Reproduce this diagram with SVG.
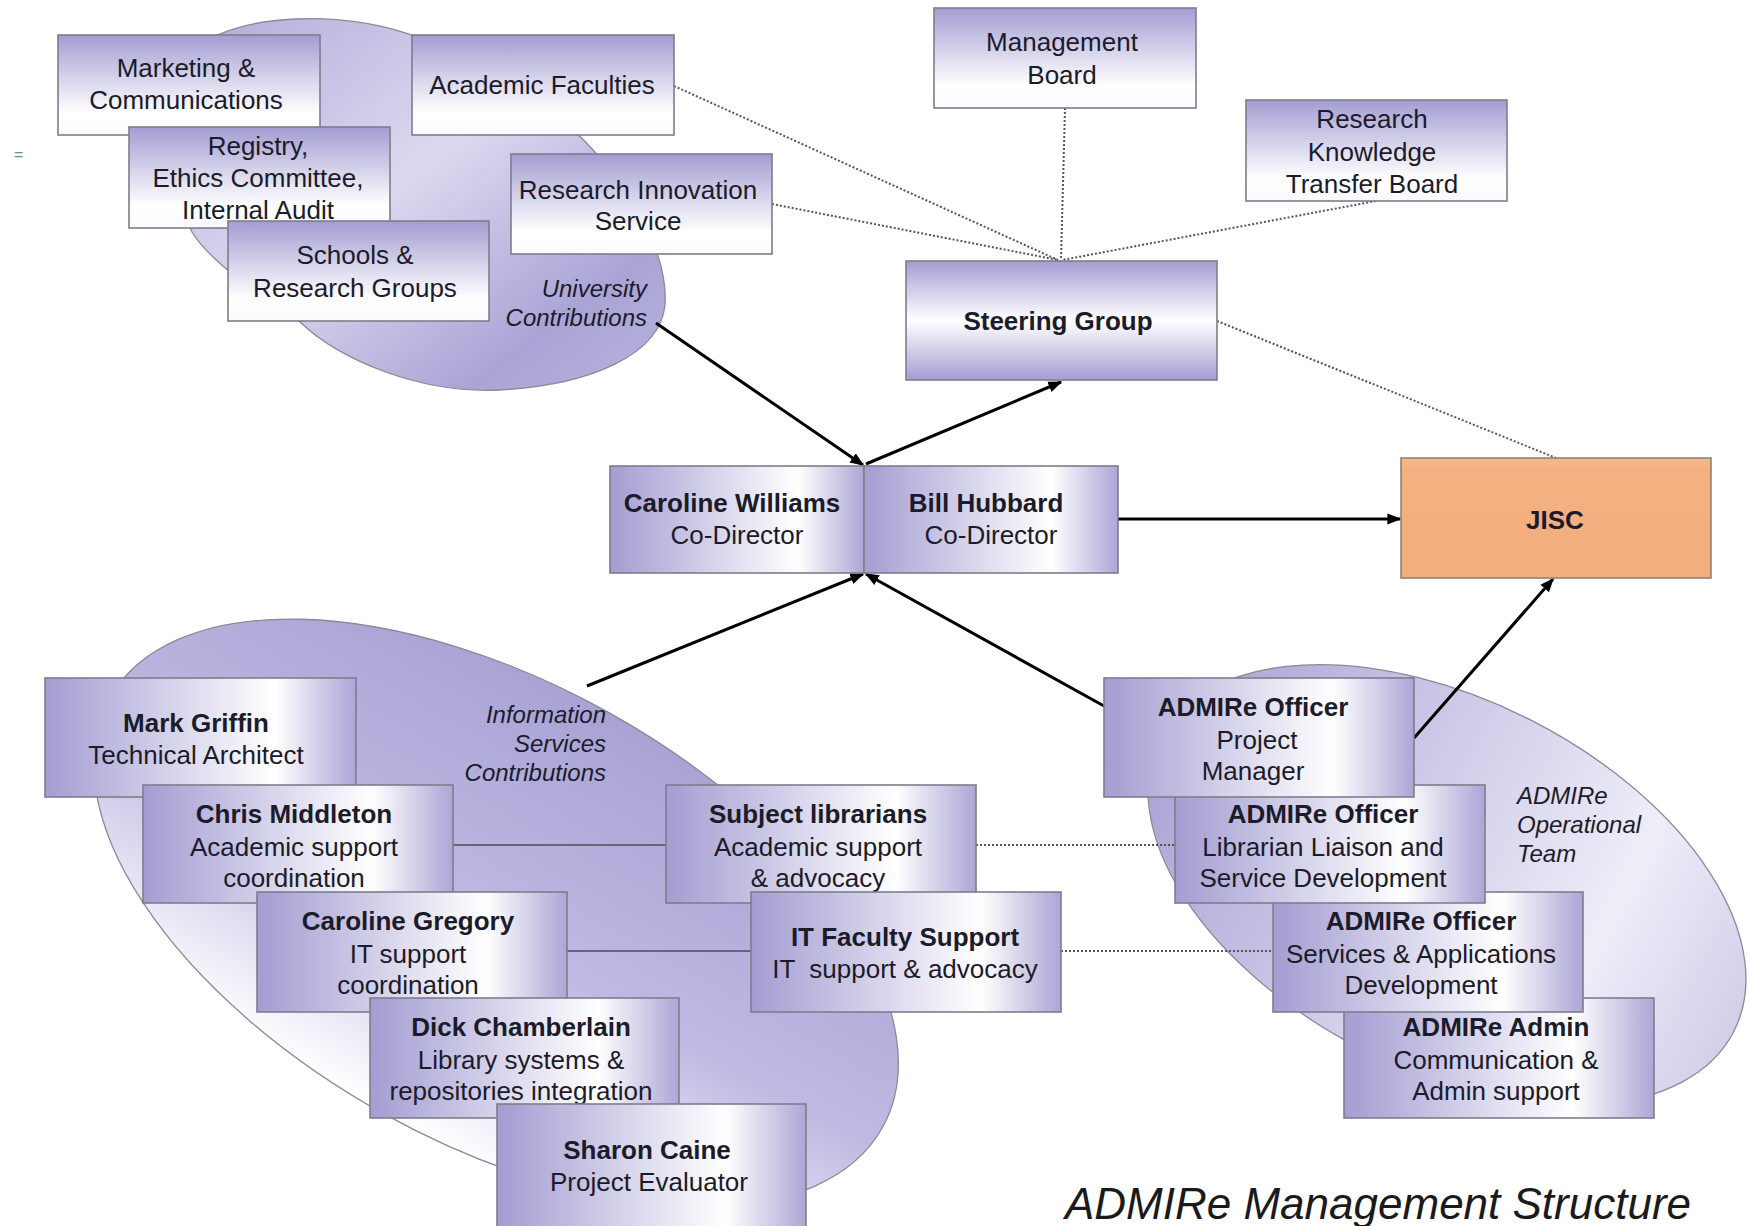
<svg xmlns="http://www.w3.org/2000/svg" width="1749" height="1226" viewBox="0 0 1749 1226">
<style>
.box{stroke:#7d7d8c;stroke-width:1.6}
text{font-family:"Liberation Sans",Arial,sans-serif;fill:#1b1b2a}
.t{font-size:26px;text-anchor:middle}
.b{font-weight:bold}
.i{font-style:italic;font-size:24px}
.dot{stroke:#555;stroke-width:2;stroke-dasharray:2 2;fill:none}
.arr{stroke:#000;stroke-width:3;fill:none;marker-end:url(#ah)}
.ln{stroke:#666677;stroke-width:1.8;fill:none}
.blob{stroke:#8a8a96;stroke-width:1.3}
</style>
<defs>
<linearGradient id="gV" x1="0" y1="0" x2="0" y2="1"><stop offset="0" stop-color="#a39dd2"/><stop offset="0.78" stop-color="#ffffff"/><stop offset="1" stop-color="#fbfbff"/></linearGradient>
<linearGradient id="gS" x1="0" y1="0" x2="0" y2="1"><stop offset="0" stop-color="#a39dd2"/><stop offset="0.5" stop-color="#ffffff"/><stop offset="1" stop-color="#a39dd2"/></linearGradient>
<linearGradient id="gH" x1="0" y1="0" x2="1" y2="0"><stop offset="0" stop-color="#a39dd2"/><stop offset="0.74" stop-color="#ffffff"/><stop offset="1" stop-color="#aca6d6"/></linearGradient>
<linearGradient id="gJ" x1="0" y1="0" x2="0" y2="1"><stop offset="0" stop-color="#f6b98c"/><stop offset="0.1" stop-color="#f4b080"/><stop offset="1" stop-color="#f3ae7e"/></linearGradient>
<linearGradient id="gB1" x1="0" y1="0" x2="1" y2="1"><stop offset="0" stop-color="#b0aada"/><stop offset="0.45" stop-color="#dcd9ef"/><stop offset="0.8" stop-color="#aaa4d6"/><stop offset="1" stop-color="#b8b3de"/></linearGradient>
<linearGradient id="gE1" x1="0" y1="0" x2="0" y2="1"><stop offset="0" stop-color="#a9a3d5"/><stop offset="0.55" stop-color="#bfbae2"/><stop offset="1" stop-color="#ffffff"/></linearGradient>
<linearGradient id="gE2" x1="0" y1="0" x2="1" y2="0"><stop offset="0" stop-color="#aaa4d6"/><stop offset="0.75" stop-color="#eeedf8"/><stop offset="1" stop-color="#d2cfea"/></linearGradient>
<marker id="ah" viewBox="0 0 10 10" refX="9" refY="5" markerWidth="14" markerHeight="14" markerUnits="userSpaceOnUse" orient="auto"><path d="M0,1 L10,5 L0,9 z" fill="#000"/></marker>
</defs>
<rect width="1749" height="1226" fill="#ffffff"/>
<text x="14" y="160" style="font-size:16px;fill:#6f8f80">=</text>

<g id="blob-university">
<path class="blob" fill="url(#gB1)" d="M200,45 C240,15 340,8 420,38 C490,65 560,110 600,158 C640,205 668,260 665,305 C660,355 590,385 500,390 C420,394 340,360 300,322 C260,295 210,262 192,232 C165,185 165,85 200,45 Z"/>
<text class="i" x="647" y="297" text-anchor="end">University</text>
<text class="i" x="647" y="326" text-anchor="end">Contributions</text>
</g>
<g id="ellipse-information-services">
<ellipse class="blob" fill="url(#gE1)" cx="0" cy="0" rx="442" ry="230" transform="translate(496,913) rotate(29)"/>
<text class="i" x="606" y="723" text-anchor="end">Information</text>
<text class="i" x="606" y="752" text-anchor="end">Services</text>
<text class="i" x="606" y="781" text-anchor="end">Contributions</text>
</g>
<g id="ellipse-operational-team">
<ellipse class="blob" fill="url(#gE2)" cx="0" cy="0" rx="322" ry="185" transform="translate(1447,885) rotate(27)"/>
<text class="i" x="1517" y="804">ADMIRe</text>
<text class="i" x="1517" y="833">Operational</text>
<text class="i" x="1517" y="862">Team</text>
</g>

<g id="connectors">
<line class="dot" x1="674" y1="86" x2="1058" y2="260"/>
<line class="dot" x1="772" y1="204" x2="1058" y2="260"/>
<line class="dot" x1="1065" y1="108" x2="1061" y2="260"/>
<line class="dot" x1="1376" y1="201" x2="1062" y2="260"/>
<line class="dot" x1="1217" y1="321" x2="1556" y2="458"/>
<line class="dot" x1="976" y1="845" x2="1175" y2="845"/>
<line class="dot" x1="1061" y1="951" x2="1273" y2="951"/>
<line class="ln" x1="453" y1="845" x2="666" y2="845"/>
<line class="ln" x1="567" y1="951" x2="751" y2="951"/>
<line class="arr" x1="656" y1="323" x2="863" y2="465"/>
<line class="arr" x1="866" y1="464" x2="1061" y2="382"/>
<line class="arr" x1="1118" y1="519" x2="1400" y2="519"/>
<line class="arr" x1="587" y1="686" x2="863" y2="574"/>
<line class="arr" x1="1104" y1="706" x2="866" y2="574"/>
<line class="arr" x1="1414" y1="738" x2="1553" y2="579"/>
</g>

<g id="marketing"><rect class="box" fill="url(#gV)" x="58" y="35" width="262" height="100"/>
<text class="t" x="186" y="77">Marketing &amp;</text><text class="t" x="186" y="109">Communications</text></g>
<g id="registry"><rect class="box" fill="url(#gV)" x="129" y="127" width="261" height="101"/>
<text class="t" x="258" y="155">Registry,</text><text class="t" x="258" y="187">Ethics Committee,</text><text class="t" x="258" y="219">Internal Audit</text></g>
<g id="schools"><rect class="box" fill="url(#gV)" x="228" y="221" width="261" height="100"/>
<text class="t" x="355" y="264">Schools &amp;</text><text class="t" x="355" y="297">Research Groups</text></g>
<g id="academic-faculties"><rect class="box" fill="url(#gV)" x="412" y="35" width="262" height="100"/>
<text class="t" x="542" y="94">Academic Faculties</text></g>
<g id="research-innovation"><rect class="box" fill="url(#gV)" x="511" y="154" width="261" height="100"/>
<text class="t" x="638" y="199">Research Innovation</text><text class="t" x="638" y="230">Service</text></g>
<g id="management-board"><rect class="box" fill="url(#gV)" x="934" y="8" width="262" height="100"/>
<text class="t" x="1062" y="51">Management</text><text class="t" x="1062" y="84">Board</text></g>
<g id="rktb"><rect class="box" fill="url(#gV)" x="1246" y="100" width="261" height="101"/>
<text class="t" x="1372" y="128">Research</text><text class="t" x="1372" y="161">Knowledge</text><text class="t" x="1372" y="193">Transfer Board</text></g>
<g id="steering-group"><rect class="box" fill="url(#gS)" x="906" y="261" width="311" height="119"/>
<text class="t b" x="1058" y="330">Steering Group</text></g>
<g id="caroline-williams"><rect class="box" fill="url(#gH)" x="610" y="466" width="254" height="107"/>
<text class="t b" x="732" y="512">Caroline Williams</text><text class="t" x="737" y="544">Co-Director</text></g>
<g id="bill-hubbard"><rect class="box" fill="url(#gH)" x="864" y="466" width="254" height="107"/>
<text class="t b" x="986" y="512">Bill Hubbard</text><text class="t" x="991" y="544">Co-Director</text></g>
<g id="jisc"><rect x="1401" y="458" width="310" height="120" fill="url(#gJ)" stroke="#8c8478" stroke-width="1.6"/>
<text class="t b" x="1555" y="529">JISC</text></g>

<g id="mark-griffin"><rect class="box" fill="url(#gH)" x="45" y="678" width="311" height="119"/>
<text class="t b" x="196" y="732">Mark Griffin</text><text class="t" x="196" y="764">Technical Architect</text></g>
<g id="chris-middleton"><rect class="box" fill="url(#gH)" x="143" y="785" width="310" height="118"/>
<text class="t b" x="294" y="823">Chris Middleton</text><text class="t" x="294" y="856">Academic support</text><text class="t" x="294" y="887">coordination</text></g>
<g id="caroline-gregory"><rect class="box" fill="url(#gH)" x="257" y="892" width="310" height="120"/>
<text class="t b" x="408" y="930">Caroline Gregory</text><text class="t" x="408" y="963">IT support</text><text class="t" x="408" y="994">coordination</text></g>
<g id="dick-chamberlain"><rect class="box" fill="url(#gH)" x="370" y="998" width="309" height="120"/>
<text class="t b" x="521" y="1036">Dick Chamberlain</text><text class="t" x="521" y="1069">Library systems &amp;</text><text class="t" x="521" y="1100">repositories integration</text></g>
<g id="sharon-caine"><rect class="box" fill="url(#gH)" x="497" y="1104" width="309" height="126"/>
<text class="t b" x="647" y="1159">Sharon Caine</text><text class="t" x="649" y="1191">Project Evaluator</text></g>
<g id="subject-librarians"><rect class="box" fill="url(#gH)" x="666" y="785" width="310" height="118"/>
<text class="t b" x="818" y="823">Subject librarians</text><text class="t" x="818" y="856">Academic support</text><text class="t" x="818" y="887">&amp; advocacy</text></g>
<g id="it-faculty-support"><rect class="box" fill="url(#gH)" x="751" y="892" width="310" height="120"/>
<text class="t b" x="905" y="946">IT Faculty Support</text><text class="t" x="905" y="978" style="white-space:pre">IT  support &amp; advocacy</text></g>

<g id="admire-admin"><rect class="box" fill="url(#gH)" x="1344" y="998" width="310" height="120"/>
<text class="t b" x="1496" y="1036">ADMIRe Admin</text><text class="t" x="1496" y="1069">Communication &amp;</text><text class="t" x="1496" y="1100">Admin support</text></g>
<g id="admire-services"><rect class="box" fill="url(#gH)" x="1273" y="892" width="310" height="120"/>
<text class="t b" x="1421" y="930">ADMIRe Officer</text><text class="t" x="1421" y="963">Services &amp; Applications</text><text class="t" x="1421" y="994">Development</text></g>
<g id="admire-librarian"><rect class="box" fill="url(#gH)" x="1175" y="785" width="310" height="118"/>
<text class="t b" x="1323" y="823">ADMIRe Officer</text><text class="t" x="1323" y="856">Librarian Liaison and</text><text class="t" x="1323" y="887">Service Development</text></g>
<g id="admire-pm"><rect class="box" fill="url(#gH)" x="1104" y="678" width="310" height="119"/>
<text class="t b" x="1253" y="716">ADMIRe Officer</text><text class="t" x="1257" y="749">Project</text><text class="t" x="1253" y="780">Manager</text></g>

<text x="1065" y="1219" style="font-size:44px;font-style:italic;fill:#1a1a1a">ADMIRe Management Structure</text>
</svg>
